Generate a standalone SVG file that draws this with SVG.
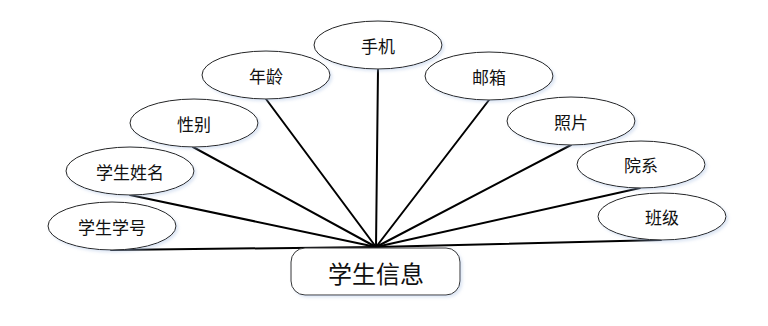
<svg xmlns="http://www.w3.org/2000/svg" width="768" height="326" viewBox="0 0 768 326">
<defs>
<filter id="sh" x="-10%" y="-20%" width="125%" height="150%">
<feDropShadow dx="2" dy="2" stdDeviation="1.5" flood-color="#9fb8e0" flood-opacity="0.35"/>
</filter>
<style>
.attr ellipse{fill:#fff;stroke:#222;stroke-width:1;filter:url(#sh)}
.lbl{font-family:"Noto Sans CJK SC",sans-serif;font-size:17px;fill:#111;text-anchor:middle;dominant-baseline:central}
.conn line{stroke:#000;stroke-width:2;stroke-linecap:round}
.hub rect{fill:#fff;stroke:#333;stroke-width:1;filter:url(#sh)}
.hubt{font-family:"Noto Sans CJK SC",sans-serif;font-size:24px;fill:#111;text-anchor:middle;dominant-baseline:central}
</style>
</defs>
<rect width="768" height="326" fill="#fff"/>
<g id="connectors" class="conn">
<line x1="111" y1="250" x2="376" y2="247"/>
<line x1="130" y1="195" x2="376" y2="247"/>
<line x1="193" y1="147" x2="376" y2="247"/>
<line x1="266" y1="99" x2="376" y2="247"/>
<line x1="378" y1="69" x2="376" y2="247"/>
<line x1="489" y1="100" x2="376" y2="247"/>
<line x1="571" y1="145" x2="376" y2="247"/>
<line x1="640" y1="188" x2="376" y2="247"/>
<line x1="661" y1="240" x2="376" y2="247"/>
</g>
<g id="n-xuehao" class="attr"><ellipse cx="112" cy="226" rx="64" ry="24"/><text class="lbl" x="112" y="226">学生学号</text></g>
<g id="n-xingming" class="attr"><ellipse cx="130" cy="171" rx="64" ry="24"/><text class="lbl" x="130" y="171">学生姓名</text></g>
<g id="n-xingbie" class="attr"><ellipse cx="194" cy="123" rx="64" ry="24"/><text class="lbl" x="194" y="123">性别</text></g>
<g id="n-nianling" class="attr"><ellipse cx="266" cy="75" rx="64" ry="24"/><text class="lbl" x="266" y="75">年龄</text></g>
<g id="n-shouji" class="attr"><ellipse cx="378" cy="45" rx="64" ry="24"/><text class="lbl" x="378" y="45">手机</text></g>
<g id="n-youxiang" class="attr"><ellipse cx="489" cy="76" rx="64" ry="24"/><text class="lbl" x="489" y="76">邮箱</text></g>
<g id="n-zhaopian" class="attr"><ellipse cx="571" cy="121" rx="64" ry="24"/><text class="lbl" x="571" y="121">照片</text></g>
<g id="n-yuanxi" class="attr"><ellipse cx="641" cy="164.5" rx="64" ry="23.5"/><text class="lbl" x="641" y="164.5">院系</text></g>
<g id="n-banji" class="attr"><ellipse cx="662" cy="216.5" rx="64" ry="23.5"/><text class="lbl" x="662" y="216.5">班级</text></g>
<g id="n-xueshengxinxi" class="hub"><rect x="291" y="248" width="169" height="47" rx="14" ry="14"/><text class="hubt" x="376" y="272">学生信息</text></g>
</svg>
